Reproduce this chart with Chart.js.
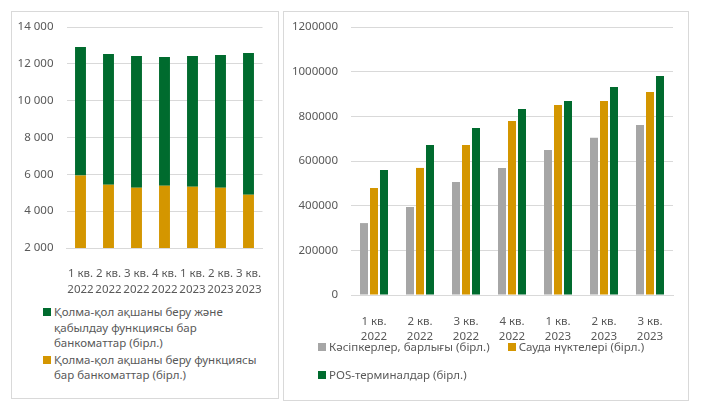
<!DOCTYPE html>
<html>
<head>
<meta charset="utf-8">
<script src="https://cdn.jsdelivr.net/npm/chart.js@4.4.1/dist/chart.umd.min.js"></script>
<style>
  body {
    margin: 0;
    width: 702px;
    height: 408px;
    position: relative;
    overflow: hidden;
    background: #fff;
    font-family: "Noto Sans", sans-serif;
    color: #595959;
  }
  .panel {
    position: absolute;
    box-sizing: border-box;
    border: 1px solid #d9d9d9;
  }
  .chart-box {
    position: absolute;
  }
  .legend {
    position: absolute;
    font-size: 11.5px;
  }
  .legend .item {
    display: flex;
    align-items: flex-start;
  }
  .legend .swatch {
    flex: none;
    width: 8px;
    height: 8px;
    margin-right: 3px;
  }
  #legend-left {
    left: 43px;
    top: 304px;
    line-height: 15.5px;
  }
  #legend-left .swatch { margin-top: 4px; }
  #legend-left .text { white-space: pre-line; }
  #legend-left .item + .item { margin-top: 1px; }
  #legend-right {
    left: 318px;
    top: 339px;
    width: 365px;
    line-height: 16px;
    display: flex;
    flex-wrap: wrap;
    row-gap: 12px;
  }
  #legend-right .item { margin-right: 18px; }
  #legend-right .swatch { margin-top: 4px; }
</style>
</head>
<body>
<div class="panel" style="left:11px; top:11px; width:268px; height:388px;"></div>
<div class="panel" style="left:283px; top:11px; width:406px; height:390px;"></div>

<div class="chart-box" style="left:12px; top:12px; width:266px; height:290px;">
  <canvas id="atm-chart"></canvas>
</div>
<div class="chart-box" style="left:284px; top:12px; width:404px; height:340px;">
  <canvas id="pos-chart"></canvas>
</div>

<div class="legend" id="legend-left"></div>
<div class="legend" id="legend-right"></div>

<script>
"use strict";

const quarters = [
  ["1 кв.", "2022"], ["2 кв.", "2022"], ["3 кв.", "2022"], ["4 кв.", "2022"],
  ["1 кв.", "2023"], ["2 кв.", "2023"], ["3 кв.", "2023"]
];

// left chart (stacked)
const atmCashOut = [5940, 5433, 5270, 5380, 5325, 5270, 4890];
const atmCashInOut = [6976, 7103, 7158, 6993, 7103, 7212, 7700];
const atmCashOutLines = ["Қолма-қол ақшаны беру функциясы", "бар банкоматтар (бірл.)"];
const atmCashInOutLines = ["Қолма-қол ақшаны беру және", "қабылдау функциясы бар", "банкоматтар (бірл.)"];

// right chart (grouped)
const entrepreneurs = [322000, 394000, 506000, 569000, 649000, 704000, 761000];
const tradePoints = [479000, 569000, 672000, 779000, 851000, 869000, 909000];
const posTerminals = [560000, 672000, 748000, 833000, 869000, 931000, 981000];
const posLabels = ["Кәсіпкерлер, барлығы (бірл.)", "Сауда нүктелері (бірл.)", "POS-терминалдар (бірл.)"];

const GREEN = "#006b2e";
const ORANGE = "#d49600";
const GRAY = "#a6a6a6";
const TEXT = "#595959";
const GRID = "#d9d9d9";
const FONT = "'Noto Sans', sans-serif";

Chart.defaults.font.family = FONT;
Chart.defaults.font.size = 11.5;
Chart.defaults.color = TEXT;

function spaced(value) {
  return String(value).replace(/\B(?=(\d{3})+(?!\d))/g, " ");
}

// pin the axis width and drop the extra top/bottom room the scale asks for
function fixedWidth(width) {
  return (scale) => {
    scale.width = width;
    scale.paddingTop = 0;
    scale.paddingBottom = 0;
  };
}

function fixedHeight(height) {
  return (scale) => { scale.height = height; };
}

const atmChart = new Chart(document.getElementById("atm-chart"), {
  type: "bar",
  data: {
    labels: quarters,
    datasets: [
      {
        label: atmCashOutLines.join(" "),
        lines: atmCashOutLines,
        data: atmCashOut,
        backgroundColor: ORANGE,
        barPercentage: 0.39,
        categoryPercentage: 1
      },
      {
        label: atmCashInOutLines.join(" "),
        lines: atmCashInOutLines,
        data: atmCashInOut,
        backgroundColor: GREEN,
        barPercentage: 0.39,
        categoryPercentage: 1
      }
    ]
  },
  options: {
    responsive: true,
    maintainAspectRatio: false,
    animation: false,
    layout: { padding: { top: 15, right: 15.5, left: 0, bottom: 0 } },
    plugins: {
      legend: { display: false },
      tooltip: { enabled: true }
    },
    scales: {
      x: {
        stacked: true,
        grid: { display: false },
        border: { display: true, color: GRID },
        ticks: {
          maxRotation: 0,
          autoSkip: false,
          padding: 10,
          font: { lineHeight: 16 / 11.5 }
        },
        afterFit: fixedHeight(54)
      },
      y: {
        stacked: true,
        min: 2000,
        max: 14000,
        grid: { color: GRID, drawTicks: false },
        border: { display: false },
        ticks: {
          stepSize: 2000,
          padding: 13,
          callback: (value) => spaced(value)
        },
        afterFit: fixedWidth(54.5)
      }
    }
  }
});

const posChart = new Chart(document.getElementById("pos-chart"), {
  type: "bar",
  data: {
    labels: quarters,
    datasets: [
      { label: posLabels[0], data: entrepreneurs, backgroundColor: GRAY },
      { label: posLabels[1], data: tradePoints, backgroundColor: ORANGE },
      { label: posLabels[2], data: posTerminals, backgroundColor: GREEN }
    ]
  },
  options: {
    responsive: true,
    maintainAspectRatio: false,
    animation: false,
    layout: { padding: { top: 15, right: 15, left: 0, bottom: 0 } },
    datasets: {
      bar: { barPercentage: 0.8, categoryPercentage: 0.652 }
    },
    plugins: {
      legend: { display: false }
    },
    scales: {
      x: {
        grid: { display: false },
        border: { display: true, color: GRID },
        ticks: {
          maxRotation: 0,
          autoSkip: false,
          padding: 11.5,
          font: { lineHeight: 15 / 11.5 }
        },
        afterFit: fixedHeight(57)
      },
      y: {
        min: 0,
        max: 1200000,
        grid: { color: GRID, drawTicks: false },
        border: { display: false },
        ticks: {
          stepSize: 200000,
          padding: 13,
          callback: (value) => String(value)
        },
        afterFit: fixedWidth(67)
      }
    }
  }
});

function buildLegend(chart, containerId, reverse) {
  const container = document.getElementById(containerId);
  const sets = chart.data.datasets.slice();
  if (reverse) {
    sets.reverse();
  }
  sets.forEach((set) => {
    const item = document.createElement("div");
    item.className = "item";
    const swatch = document.createElement("span");
    swatch.className = "swatch";
    swatch.style.background = set.backgroundColor;
    const text = document.createElement("span");
    text.className = "text";
    text.textContent = set.lines ? set.lines.join("\n") : set.label;
    item.appendChild(swatch);
    item.appendChild(text);
    container.appendChild(item);
  });
}

buildLegend(atmChart, "legend-left", true);
buildLegend(posChart, "legend-right", false);
</script>
</body>
</html>
